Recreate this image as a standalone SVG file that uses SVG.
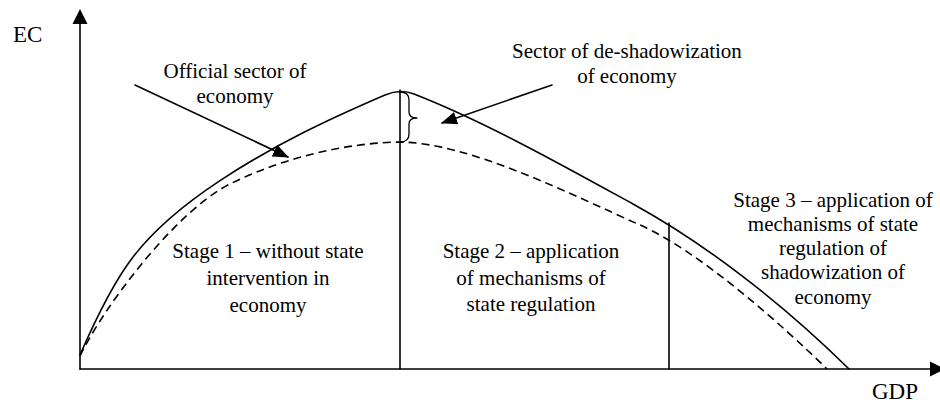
<svg xmlns="http://www.w3.org/2000/svg" width="940" height="405" viewBox="0 0 940 405">
<style>
text{font-family:"Liberation Serif","Times New Roman",serif;font-size:21px;fill:#000}
.c{text-anchor:middle}
.ax{font-size:23px}
.ln{fill:none;stroke:#000;stroke-width:1.6;stroke-linecap:round;stroke-linejoin:round}
.dash{stroke-dasharray:8 5;stroke-linecap:butt}
</style>
<defs>
<marker id="ah" markerUnits="userSpaceOnUse" markerWidth="18" markerHeight="14" refX="15" refY="6.5" orient="auto">
<path d="M0,0 L16,6.5 L0,13 Z" fill="#000"/>
</marker>
</defs>
<rect width="940" height="405" fill="#fff"/>
<g id="axes">
<line class="ln" x1="80" y1="369" x2="80" y2="22"/>
<path d="M80,9 L72.5,24 L87.5,24 Z" fill="#000"/>
<line class="ln" x1="80" y1="369" x2="932" y2="369"/>
<path d="M945,369 L930,361.5 L930,376.5 Z" fill="#000"/>
<text class="ax" x="13" y="42">EC</text>
<text class="ax" x="872" y="399">GDP</text>
</g>
<g id="curves">
<path id="official" class="ln" d="M80,355 C95,320.5 113,283 133,257 C158,224.5 190,200.4 220,180.6 C275,144.3 330,118.65 385,95 Q400,88.5 414,94 C484,121.3 563,165.5 633,204 C703,242.5 779,300 849,369"/>
<path id="shadow" class="ln dash" d="M80,356 C103,308 175,211.5 230,184 C285,156.5 350,142.7 400,142 C470,143 570,194 640,225 C700,251.6 782,325 827,369"/>
</g>
<g id="dividers">
<line class="ln" x1="400" y1="90" x2="400" y2="369"/>
<line class="ln" x1="669" y1="223" x2="669" y2="369"/>
<path class="ln" style="stroke-width:1.3" d="M400,92 Q409,92 409,100 L409,112 Q409,118 417,118 Q409,118 409,124 L409,134 Q409,142 400,142"/>
</g>
<g id="connectors">
<line class="ln" x1="135" y1="85" x2="288" y2="157" marker-end="url(#ah)"/>
<line class="ln" x1="552" y1="85" x2="442" y2="123" marker-end="url(#ah)"/>
</g>
<g id="label-official">
<text class="c" x="235" y="78">Official sector of</text>
<text class="c" x="235" y="103">economy</text>
</g>
<g id="label-deshadow">
<text class="c" x="627" y="58">Sector of de-shadowization</text>
<text class="c" x="627" y="83">of economy</text>
</g>
<g id="stage1">
<text class="c" x="268" y="258">Stage 1 – without state</text>
<text class="c" x="268" y="285">intervention in</text>
<text class="c" x="268" y="312">economy</text>
</g>
<g id="stage2">
<text class="c" x="531" y="258">Stage 2 – application</text>
<text class="c" x="531" y="285">of mechanisms of</text>
<text class="c" x="531" y="311">state regulation</text>
</g>
<g id="stage3">
<text class="c" x="833" y="207">Stage 3 – application of</text>
<text class="c" x="833" y="231">mechanisms of state</text>
<text class="c" x="833" y="255">regulation of</text>
<text class="c" x="833" y="279">shadowization of</text>
<text class="c" x="833" y="304">economy</text>
</g>
</svg>
